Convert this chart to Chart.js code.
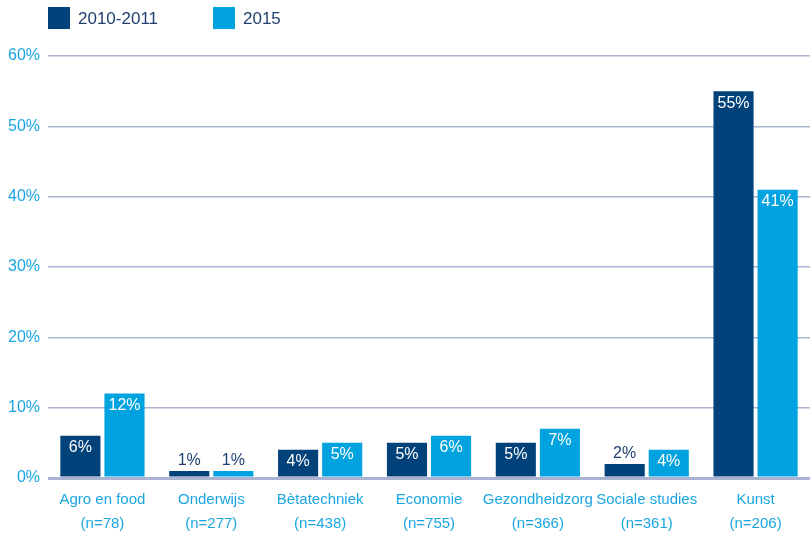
<!DOCTYPE html>
<html>
<head>
<meta charset="utf-8">
<script src="https://cdn.jsdelivr.net/npm/chart.js@4.4.1/dist/chart.umd.min.js"></script>
<style>
  html, body { margin: 0; padding: 0; background: #fff; }
  #wrap { position: relative; width: 810px; height: 540px; }
</style>
</head>
<body>
<div id="wrap"><canvas id="chart"></canvas></div>
<script>
const categories = [
  ['Agro en food', '(n=78)'],
  ['Onderwijs', '(n=277)'],
  ['Bètatechniek', '(n=438)'],
  ['Economie', '(n=755)'],
  ['Gezondheidzorg', '(n=366)'],
  ['Sociale studies', '(n=361)'],
  ['Kunst', '(n=206)']
];
const values2010 = [6, 1, 4, 5, 5, 2, 55];
const values2015 = [12, 1, 5, 6, 7, 4, 41];
const yTicks = [0, 10, 20, 30, 40, 50, 60];

const FONT = "'Liberation Sans', Arial, sans-serif";
const COLORS = {
  dark: '#02427a',
  light: '#00a3e0',
  tick: '#1aa5e1',
  grid: '#aab4d2',
  labelDark: '#1f3f6e'
};

const legendPlugin = {
  id: 'topLegend',
  afterDraw(chart) {
    const { ctx } = chart;
    const items = [
      { x: 48, color: COLORS.dark, text: chart.data.datasets[0].label },
      { x: 213, color: COLORS.light, text: chart.data.datasets[1].label }
    ];
    ctx.save();
    ctx.font = '17px ' + FONT;
    ctx.textBaseline = 'middle';
    ctx.textAlign = 'left';
    items.forEach((item) => {
      ctx.fillStyle = item.color;
      ctx.fillRect(item.x, 7, 22, 22);
      ctx.fillStyle = COLORS.labelDark;
      ctx.fillText(item.text, item.x + 30, 19);
    });
    ctx.restore();
  }
};

const valueLabels = {
  id: 'valueLabels',
  afterDatasetsDraw(chart) {
    const { ctx } = chart;
    ctx.save();
    ctx.font = '16px ' + FONT;
    ctx.textAlign = 'center';
    chart.data.datasets.forEach((dataset, i) => {
      chart.getDatasetMeta(i).data.forEach((bar, j) => {
        const value = dataset.data[j];
        const text = `${value}%`;
        if (value >= 3) {
          ctx.fillStyle = '#ffffff';
          ctx.textBaseline = 'top';
          ctx.fillText(text, bar.x, bar.y + 4);
        } else {
          ctx.fillStyle = COLORS.labelDark;
          ctx.textBaseline = 'bottom';
          ctx.fillText(text, bar.x, bar.y - 2);
        }
      });
    });
    ctx.restore();
  }
};

new Chart(document.getElementById('chart'), {
  type: 'bar',
  data: {
    labels: categories,
    datasets: [
      { label: '2010-2011', data: values2010, backgroundColor: COLORS.dark },
      { label: '2015', data: values2015, backgroundColor: COLORS.light }
    ]
  },
  options: {
    responsive: true,
    maintainAspectRatio: false,
    animation: false,
    categoryPercentage: 0.81,
    barPercentage: 0.91,
    layout: { padding: { top: 56, right: 0, left: 0, bottom: 2 } },
    plugins: {
      legend: { display: false },
      tooltip: { enabled: false }
    },
    scales: {
      x: {
        grid: { display: false },
        border: { display: false },
        ticks: {
          color: COLORS.tick,
          font: { family: FONT, size: 15, lineHeight: 1.6 },
          padding: 2,
          maxRotation: 0,
          autoSkip: false
        }
      },
      y: {
        min: 0,
        max: 60,
        afterBuildTicks(scale) {
          scale.ticks = yTicks.map((value) => ({ value }));
        },
        border: { display: false },
        grid: {
          color: COLORS.grid,
          lineWidth: (c) => (c.tick && c.tick.value === 0 ? 3 : 1.5),
          drawTicks: false
        },
        ticks: {
          color: COLORS.tick,
          font: { family: FONT, size: 16 },
          padding: 8,
          callback: (value) => `${value}%`
        }
      }
    }
  },
  plugins: [legendPlugin, valueLabels]
});
</script>
</body>
</html>
